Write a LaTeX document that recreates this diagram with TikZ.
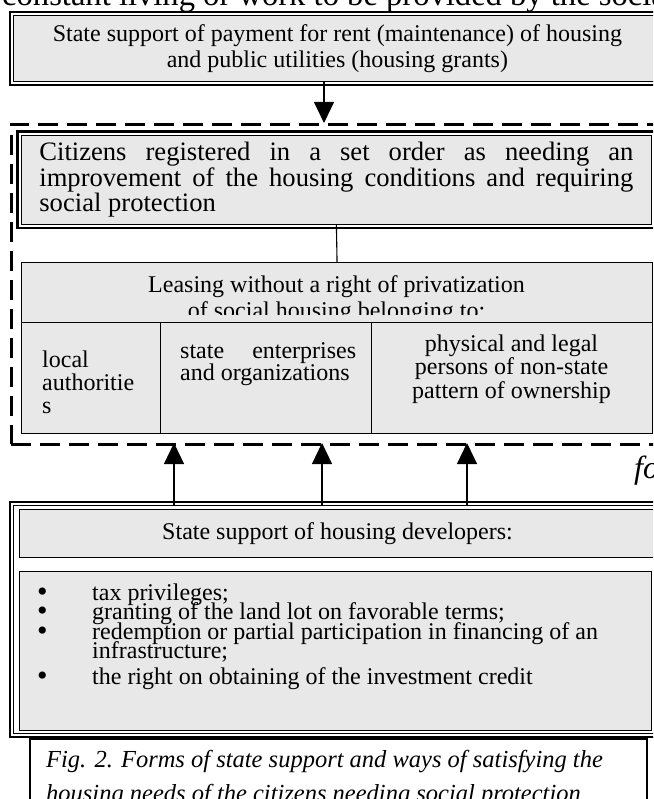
\documentclass[tikz,border=0pt]{standalone}
\usepackage{fontspec}
\setmainfont{Liberation Serif}
\usetikzlibrary{arrows.meta}
\definecolor{cellgray}{RGB}{232,232,232}
\newcommand{\pxfont}[2]{\fontsize{#1}{#2}\selectfont}
\newcommand{\listmark}{\makebox[55pt][l]{\raisebox{-1pt}{\pxfont{30}{19}\textbullet}}}

\begin{document}
\begin{tikzpicture}[x=1pt,y=-1pt,
    cell/.style={draw,line width=1.1pt,fill=cellgray,inner sep=0pt,anchor=north west},
    plain/.style={inner sep=0pt,font=\pxfont{24}{26}},
    justified/.style={align=justify,execute at begin node={\tolerance=10000 \hyphenpenalty=10000}},
    tiparrow/.style={line width=1.2pt,-{Triangle[length=21pt,width=20pt]}}]
\useasboundingbox (0,0) rectangle (653,799);
\clip (0,0) rectangle (653,799);

% page text above and beside the figure
\node[inner sep=0pt,anchor=base west,font=\pxfont{32.6}{32}] (pageline) at (2,6)
  {constant living or work to be provided by the social};
\node[inner sep=0pt,anchor=base west,font=\pxfont{32}{32}\itshape] (sideline) at (634,478) {fo};

% housing grants
\node[cell,line width=0.8pt,minimum width=648pt,minimum height=66pt,font=\pxfont{24}{26},align=center] (grants) at (13,15)
  {\rule{0pt}{17pt}State support of payment for rent (maintenance) of housing\\and public utilities (housing grants)};
\draw[line width=1.8pt] ([shift={(-3,-3)}]grants.north west) rectangle ([shift={(3,3)}]grants.south east);
\coordinate (grantstip) at (324,123);
\draw[tiparrow] (grants.south -| grantstip) -- (grantstip);

% citizens needing social protection
\node[draw,line width=2.6pt,dash pattern=on 20pt off 9pt,inner sep=0pt,anchor=north west,
      minimum width=690pt,minimum height=320pt] (needframe) at (10,123) {};
\node[cell,line width=0.8pt,minimum width=630pt,minimum height=89pt,text width=594pt,justified,
      font=\pxfont{26.6}{23}] (citizens) at (21,135)
  {\rule{0pt}{15pt}Citizens registered in a set order as needing an improvement of the housing conditions and requiring social protection};
\draw[line width=2.2pt] ([shift={(-3.5,-3.5)}]citizens.north west) rectangle ([shift={(3.5,3.5)}]citizens.south east);

% leasing of social housing
\node[cell,minimum width=631pt,minimum height=60pt] (leasehead) at (21,262) {};
\begin{scope}
  \clip (21,262) rectangle (652,314);
  \node[plain,anchor=base] (leasetext) at (336.5,292) {Leasing without a right of privatization};
  \node[plain,anchor=base] (leasemore) at (336.5,318) {of social housing belonging to:};
\end{scope}
\draw[line width=1.1pt] (citizens.south) -- (leasehead.north);
\node[cell,minimum width=139pt,minimum height=111pt] (local) at (21,322) {};
\node[cell,minimum width=211pt,minimum height=111pt] (stateorg) at (160,322) {};
\node[cell,minimum width=281pt,minimum height=111pt] (private) at (371,322) {};
% multi-line nodes sit on their last line
\node[plain,anchor=base west,align=left,font=\pxfont{24}{23}] (localtext) at (42,413) {local\\authoritie\\s};
\node[plain,anchor=base west,text width=176pt,justified,font=\pxfont{24}{20}] (stateorgtext) at (180,358)
  {state enterprises and organizations};
\node[plain,anchor=base,align=center,font=\pxfont{24}{21}] (privatetext) at (511.5,398)
  {physical and legal\\persons of non-state\\pattern of ownership};

% support of housing developers
\node[draw,line width=0.8pt,inner sep=0pt,anchor=north west,minimum width=700pt,minimum height=228pt] (developers) at (13,505) {};
\draw[line width=1.8pt] ([shift={(-3,-3)}]developers.north west) rectangle ([shift={(3,3)}]developers.south east);
\node[cell,minimum width=636pt,minimum height=48pt,font=\pxfont{24}{26}] (devhead) at (19,509) {State support of housing developers:};
\node[cell,minimum width=632pt,minimum height=159pt] (devlist) at (19,571) {};
\node[plain,anchor=base west,align=left,font={\pxfont{24}{19.5}\lineskiplimit=-40pt}] (devitems) at (37,684)
  {\listmark tax privileges;\\
   \listmark granting of the land lot on favorable terms;\\
   \listmark redemption or partial participation in financing of an\\
   \hspace*{55pt}infrastructure;\\[6pt]
   \listmark the right on obtaining of the investment credit};
\foreach \x [count=\i] in {174,322,467} {
  \coordinate (tip\i) at (\x,443);
  \draw[tiparrow] (developers.north -| tip\i) -- (tip\i);
}

% caption
\node[draw,line width=1.5pt,fill=white,inner sep=0pt,anchor=north west,minimum width=617pt,minimum height=90pt] (captionbox) at (29,738) {};
\node[plain,anchor=base west,align=left,font=\pxfont{24.5}{34}\itshape] (captiontext) at (46,801)
  {Fig. 2. Forms of state support and ways of satisfying the\\housing needs of the citizens needing social protection};
\end{tikzpicture}
\end{document}
